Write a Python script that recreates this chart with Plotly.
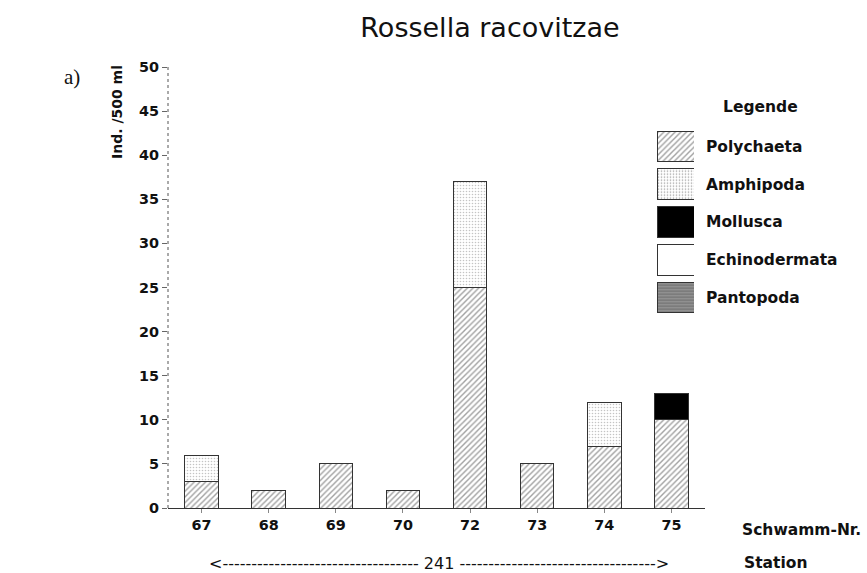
import plotly.graph_objects as go

# Sponge numbers (Schwamm-Nr.) at station 241
sponges = ["67", "68", "69", "70", "72", "73", "74", "75"]

# Individuals per 500 ml, by taxon
polychaeta = [3, 2, 5, 2, 25, 5, 7, 10]
amphipoda = [3, 0, 0, 0, 12, 0, 5, 0]
mollusca = [0, 0, 0, 0, 0, 0, 0, 3]
echinodermata = [0, 0, 0, 0, 0, 0, 0, 0]
pantopoda = [0, 0, 0, 0, 0, 0, 0, 0]

taxa = ["Polychaeta", "Amphipoda", "Mollusca", "Echinodermata", "Pantopoda"]
y_ticks = [0, 5, 10, 15, 20, 25, 30, 35, 40, 45, 50]

W, H = 867, 573
ML, MR, MT, MB = 168, 162, 67, 65
PW, PH = W - ML - MR, H - MT - MB

FONT = "DejaVu Sans"
INK = "#111111"
EDGE = "#333333"

# fill styles per taxon
styles = {
    "Polychaeta": dict(color="white", pattern=dict(shape="/", fgcolor="#444444", bgcolor="white", size=4, solidity=0.35)),
    "Amphipoda": dict(color="white", pattern=dict(shape=".", fgcolor="#8a8a8a", bgcolor="white", size=3, solidity=0.22)),
    "Mollusca": dict(color="black", pattern=dict(shape="")),
    "Echinodermata": dict(color="white", pattern=dict(shape="")),
    "Pantopoda": dict(color="#9a9a9a", pattern=dict(shape="-", fgcolor="#333333", bgcolor="#b0b0b0", size=3, solidity=0.5)),
}
values = {
    "Polychaeta": polychaeta,
    "Amphipoda": amphipoda,
    "Mollusca": mollusca,
    "Echinodermata": echinodermata,
    "Pantopoda": pantopoda,
}


def px(x):
    return (x - ML) / PW


def py(y):
    return (H - MB - y) / PH


def bold(size):
    return dict(family=FONT, size=size, color=INK, weight="bold")


fig = go.Figure()

for name in taxa:
    st = styles[name]
    fig.add_trace(go.Bar(
        x=sponges, y=values[name], name=name, width=0.5,
        marker=dict(color=st["color"], pattern=st["pattern"],
                    line=dict(color=EDGE, width=1)),
        showlegend=False, xaxis="x", yaxis="y",
    ))

# key swatches drawn as horizontal bars on their own small axes
fig.add_trace(go.Bar(
    y=taxa, x=[1] * len(taxa), orientation="h", width=0.82,
    marker=dict(
        color=[styles[t]["color"] for t in taxa],
        pattern=dict(
            shape=[styles[t]["pattern"].get("shape", "") for t in taxa],
            fgcolor=[styles[t]["pattern"].get("fgcolor", "black") for t in taxa],
            bgcolor=[styles[t]["pattern"].get("bgcolor", styles[t]["color"]) for t in taxa],
            size=[styles[t]["pattern"].get("size", 8) for t in taxa],
            solidity=[styles[t]["pattern"].get("solidity", 0.3) for t in taxa],
        ),
        line=dict(color=EDGE, width=1),
    ),
    showlegend=False, xaxis="x2", yaxis="y2", hoverinfo="skip",
))

fig.update_layout(
    width=W, height=H,
    margin=dict(l=ML, r=MR, t=MT, b=MB, autoexpand=False),
    paper_bgcolor="white", plot_bgcolor="white",
    barmode="stack", bargap=0.5,
    font=dict(family=FONT, color=INK, size=15),
    title=dict(text="Rossella racovitzae", xref="container", yref="container",
               x=490 / W, y=1 - 28 / H, xanchor="center", yanchor="middle",
               font=dict(family=FONT, size=27, color=INK)),
    xaxis=dict(
        type="category", categoryorder="array", categoryarray=sponges,
        showline=True, linecolor="#333333", linewidth=1.2,
        ticks="outside", ticklen=4, tickcolor="#888888",
        tickfont=bold(14.4),
        showgrid=False, zeroline=False, fixedrange=True,
    ),
    yaxis=dict(
        range=[0, 50], tickvals=y_ticks, showline=False,
        ticks="outside", ticklen=5, tickcolor="#666666",
        tickfont=bold(14.4),
        showgrid=False, zeroline=False, fixedrange=True,
    ),
    xaxis2=dict(domain=[px(657), px(694)], anchor="y2", range=[0, 1],
                visible=False, fixedrange=True),
    yaxis2=dict(domain=[py(316.4), py(127.6)], anchor="x2", type="category",
                categoryorder="array", categoryarray=taxa, autorange="reversed",
                side="right", showline=False, ticks="", showgrid=False,
                zeroline=False, ticklabelstandoff=11,
                tickfont=bold(15.5), fixedrange=True),
)

# dotted value axis
fig.add_shape(type="line", xref="paper", yref="y", x0=0, x1=0, y0=0, y1=50,
              line=dict(color="#555555", width=1, dash="dot"))

ann = [
    dict(text="Ind. /500 ml", x=px(117), y=py(112), textangle=-90, font=bold(14)),
    dict(text="a)", x=px(72), y=py(77),
         font=dict(family="Liberation Serif", size=21, color=INK)),
    dict(text="Legende", x=px(760), y=py(107), font=bold(15.5)),
    dict(text="Schwamm-Nr.", x=px(740), y=py(530), xanchor="left", font=bold(15.5)),
    dict(text="Station", x=px(742), y=py(563), xanchor="left", font=bold(15.5)),
    dict(text="<" + "-" * 34 + " 241 " + "-" * 34 + ">", x=px(439), y=py(563),
         font=dict(family=FONT, size=16, color=INK)),
]
for a in ann:
    a.setdefault("xanchor", "center")
    fig.add_annotation(xref="paper", yref="paper", yanchor="middle",
                       showarrow=False, **a)

fig.write_html("out.html")
